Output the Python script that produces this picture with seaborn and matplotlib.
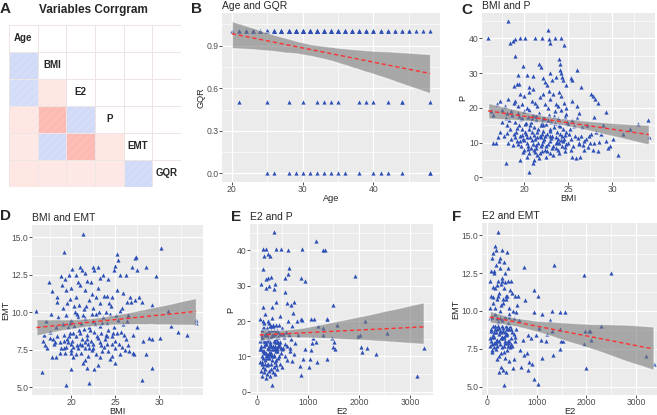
import numpy as np
import pandas as pd
import matplotlib
matplotlib.use("Agg")
import matplotlib.pyplot as plt
from matplotlib.colors import LinearSegmentedColormap
from matplotlib.patches import Rectangle
from matplotlib.ticker import AutoMinorLocator
import seaborn as sns

# ====================
# DATA
# ====================
variables = ["Age", "BMI", "E2", "P", "EMT", "GQR"]
corr_rows = [
    [1.00],
    [0.12, 1.00],
    [0.11, -0.10, 1.00],
    [-0.10, -0.27, 0.12, 1.00],
    [-0.09, 0.12, -0.27, -0.10, 1.00],
    [-0.10, -0.09, -0.09, -0.09, 0.12, 1.00],
]

# B: Age vs GQR (points overlap, so counts per age)
age_one = [20, 21, 22, 23, 24, 25, 26, 27, 28, 29, 30, 31, 32, 33, 34,
           35, 36, 37, 38, 39, 40, 41, 42, 43, 44, 45, 46, 47, 48]
n_one = [1, 2, 3, 4, 5, 6, 7, 8, 9, 10, 10, 10, 9, 8, 8,
         7, 6, 5, 5, 4, 4, 3, 3, 2, 2, 2, 1, 1, 1]
age_half = [21, 25, 28, 30, 32, 33, 34, 35, 38, 39, 40, 42, 44, 48]
n_half = [1, 1, 1, 1, 1, 1, 1, 1, 1, 1, 1, 1, 2, 1]
age_zero = [25, 26, 28, 29, 30, 31, 32, 33, 34, 35, 36, 38, 40, 41, 42, 44, 48]
n_zero = [1, 1, 1, 1, 1, 1, 1, 1, 1, 1, 1, 1, 1, 1, 1, 1, 2]

# C: BMI vs P
bmi_c = [15.9, 18.2, 18.4, 18.7, 19.0, 19.5, 20.1, 21.2, 22.0, 22.7,
         22.8, 23.0, 23.5, 24.2, 24.5, 19.0, 19.3, 19.4, 19.9, 20.3,
         21.0, 21.7, 21.9, 22.2, 22.4, 22.6, 23.2, 23.6, 24.0, 24.1,
         24.1, 24.2, 24.3, 24.4, 24.8, 25.3, 25.5, 26.0, 26.5, 19.2,
         20.6, 22.9, 18.9, 16.9, 17.2, 17.5, 17.8, 18.2, 18.5, 18.8,
         19.0, 19.3, 19.5, 19.8, 20.0, 20.3, 20.6, 20.9, 21.2, 21.5,
         21.8, 22.1, 22.4, 22.7, 23.0, 23.3, 23.6, 23.9, 24.2, 24.5,
         24.8, 25.4, 26.0, 27.6, 27.8, 28.1, 28.4, 29.3, 21.0, 22.8,
         24.0, 16.2, 16.5, 16.8, 17.2, 17.5, 17.7, 17.9, 18.1, 18.2,
         18.4, 18.6, 18.8, 19.0, 19.1, 19.2, 19.3, 19.4, 19.5, 19.6,
         19.7, 19.8, 19.9, 20.0, 20.0, 19.5, 20.1, 20.2, 20.3, 20.4,
         20.5, 20.6, 20.7, 20.8, 20.9, 21.0, 21.0, 20.5, 20.3, 21.1,
         21.2, 21.3, 21.4, 21.5, 21.5, 21.6, 21.7, 21.8, 21.9, 22.0,
         22.0, 21.7, 22.1, 22.2, 22.3, 22.4, 22.5, 22.6, 22.7, 22.8,
         22.9, 23.0, 23.0, 22.5, 23.1, 23.2, 23.3, 23.4, 23.5, 23.6,
         23.7, 23.8, 23.9, 24.0, 24.0, 24.1, 24.2, 24.3, 24.4, 24.5,
         24.6, 24.7, 24.8, 24.9, 25.0, 25.2, 25.4, 25.6, 25.8, 26.0,
         26.2, 26.4, 26.6, 26.8, 27.0, 27.2, 25.9, 26.3, 27.5, 27.8,
         28.2, 28.4, 28.7, 29.0, 29.3, 29.6, 30.1, 30.7, 31.3, 32.0,
         33.0, 34.1, 34.2, 28.0, 16.5, 17.9, 20.5, 21.0, 21.1, 18.0,
         19.2, 19.6, 20.1, 20.4, 20.7, 21.1, 21.3, 21.6, 21.9, 22.2,
         22.4, 22.7, 23.0, 23.2, 23.5, 23.8, 24.1, 24.4, 24.7, 25.0,
         19.5, 19.9, 20.3, 20.8, 21.2, 21.5, 21.8, 22.1, 22.6, 22.9,
         23.3, 23.6, 24.0, 24.3, 24.6, 25.1, 25.3, 25.7, 26.1, 26.5,
         18.0, 18.3, 18.7, 19.0, 19.4, 20.2, 20.9, 21.4, 22.0, 22.3,
         23.4, 24.8, 25.5, 26.2, 26.8, 27.3, 27.6, 27.9, 28.5, 29.8,
         19.3, 19.8, 20.4, 20.9, 21.4, 21.9, 22.5, 23.1, 23.6, 24.2,
         24.8, 25.3, 20.0, 21.1, 22.0, 23.7, 18.5, 17.0, 26.7, 27.4]
p_c = [40.1, 45.0, 38.6, 39.2, 39.8, 40.1, 40.2, 40.2, 40.2, 42.5,
       39.8, 38.6, 40.1, 40.2, 38.2, 34.8, 29.5, 26.8, 32.0, 29.5,
       29.2, 32.5, 31.8, 28.5, 27.5, 26.5, 28.0, 29.0, 34.0, 32.5,
       31.0, 30.0, 29.0, 28.0, 26.5, 28.5, 28.0, 31.0, 26.0, 27.0,
       26.0, 30.0, 26.2, 21.0, 22.0, 19.5, 20.5, 22.5, 19.0, 21.5,
       22.0, 20.5, 24.0, 21.0, 23.5, 20.0, 24.5, 22.0, 21.5, 20.5,
       23.0, 24.0, 21.0, 20.0, 22.5, 24.0, 21.0, 20.5, 23.5, 21.5,
       20.0, 22.0, 20.5, 24.0, 23.5, 22.5, 21.5, 18.8, 25.5, 25.0,
       24.5, 19.0, 18.0, 10.0, 13.0, 16.0, 12.0, 17.0, 15.0, 10.0,
       14.0, 18.0, 12.5, 16.0, 13.0, 10.5, 18.5, 15.0, 12.0, 9.0,
       17.0, 14.0, 11.0, 19.0, 8.0, 5.0, 15.5, 12.5, 10.0, 17.5,
       14.0, 7.0, 11.5, 16.0, 13.0, 9.5, 18.0, 19.5, 6.0, 14.5,
       11.0, 8.5, 16.5, 13.0, 6.5, 10.0, 18.5, 12.0, 15.0, 7.5,
       9.5, 5.5, 13.5, 17.0, 11.0, 8.0, 15.5, 12.5, 9.5, 18.0,
       14.0, 10.5, 7.0, 6.0, 16.0, 12.0, 9.0, 14.5, 19.0, 11.5,
       13.0, 8.0, 17.0, 10.0, 15.0, 12.5, 19.5, 9.0, 14.0, 11.0,
       17.5, 7.5, 13.0, 16.0, 10.0, 14.0, 6.0, 9.0, 12.0, 17.0,
       10.0, 6.0, 14.5, 8.0, 11.0, 15.0, 5.5, 9.5, 10.0, 8.0,
       13.0, 7.5, 12.5, 15.0, 10.5, 8.5, 11.0, 6.5, 12.5, 14.0,
       15.5, 16.5, 11.5, 17.5, 9.9, 4.1, 1.7, 4.1, 5.0, 18.5,
       14.2, 16.8, 13.2, 9.0, 15.0, 12.2, 17.6, 14.0, 9.0, 15.2,
       12.0, 16.4, 13.4, 8.6, 15.6, 11.0, 14.8, 10.6, 12.2, 15.5,
       10.5, 7.4, 11.7, 8.6, 7.2, 11.5, 7.0, 10.6, 7.6, 11.8,
       6.6, 9.8, 7.0, 11.9, 8.9, 12.6, 8.0, 14.8, 11.4, 12.0,
       12.8, 16.6, 9.4, 11.5, 17.8, 15.8, 17.2, 17.8, 16.0, 17.0,
       17.8, 18.2, 16.5, 18.5, 10.5, 8.8, 12.4, 9.8, 10.2, 9.0,
       9.6, 12.3, 8.2, 10.8, 9.3, 11.6, 9.1, 11.3, 8.4, 10.9,
       9.7, 11.1, 10.9, 8.0, 12.6, 10.2, 11.2, 11.5, 9.3, 11.8]

# D: BMI vs EMT
bmi_d = [21.3, 19.2, 30.2, 25.2, 25.3, 27.4, 27.2, 26.9, 25.0, 23.0,
         22.6, 21.0, 21.2, 21.5, 19.7, 18.8, 20.5, 21.8, 22.2, 17.4,
         24.8, 25.5, 26.2, 27.5, 28.5, 29.6, 23.6, 24.2, 18.9, 19.4,
         17.8, 20.0, 20.5, 21.0, 21.6, 22.3, 23.0, 23.7, 24.0, 24.6,
         25.2, 25.9, 26.7, 27.7, 28.0, 18.3, 19.0, 19.8, 20.3, 20.9,
         21.4, 22.0, 22.5, 23.2, 23.9, 24.5, 25.5, 26.3, 26.8, 27.3,
         29.2, 31.0, 34.2, 16.0, 22.8, 18.4, 17.1, 17.5, 17.9, 18.2,
         18.5, 18.7, 19.0, 19.2, 16.9, 17.7, 19.4, 19.5, 19.6, 19.8,
         20.0, 20.1, 20.3, 20.5, 20.7, 20.9, 19.9, 21.1, 21.2, 21.4,
         21.6, 21.8, 22.0, 22.2, 22.4, 22.6, 22.8, 23.0, 21.9, 23.2,
         23.4, 23.6, 23.8, 24.0, 24.2, 24.4, 24.6, 24.8, 25.0, 25.3,
         25.6, 25.9, 26.2, 26.5, 27.0, 27.5, 28.2, 28.8, 29.2, 30.1,
         26.3, 31.3, 32.2, 33.2, 34.2, 17.8, 18.2, 18.7, 19.4, 19.9,
         20.2, 20.6, 21.1, 21.5, 21.9, 22.3, 22.8, 23.3, 23.7, 24.2,
         24.6, 25.0, 25.5, 26.1, 26.6, 27.0, 27.1, 28.5, 17.0, 18.1,
         16.6, 19.4, 20.0, 21.3, 21.8, 22.0, 22.6, 23.0, 24.4, 25.0,
         28.1, 29.2, 21.6, 19.3, 20.1, 22.5, 20.8, 23.3, 19.5, 20.6,
         19.6, 19.8, 20.2, 20.4, 20.8, 21.0, 21.3, 21.5, 21.7, 22.1,
         22.3, 22.5, 22.7, 23.1, 23.3, 23.5, 23.9, 24.1, 24.3, 24.7,
         25.1, 25.4, 25.8, 26.0, 26.4, 19.1, 20.0, 21.0, 22.0, 23.5,
         17.2, 17.6, 18.0, 18.4, 18.8, 19.1, 19.3, 19.7, 20.2, 16.8,
         20.5, 21.2, 21.8, 22.4, 22.9, 23.4, 24.0, 24.6, 25.2, 25.8]
emt_d = [15.2, 14.0, 14.3, 13.9, 13.5, 13.7, 13.6, 13.0, 13.1, 13.0,
         12.8, 13.0, 12.8, 12.6, 12.5, 12.4, 12.5, 12.1, 12.0, 12.0,
         12.8, 12.5, 12.5, 12.8, 13.0, 12.4, 12.5, 12.2, 11.8, 11.5,
         11.4, 11.6, 11.0, 11.8, 11.5, 11.2, 11.6, 11.1, 11.1, 11.0,
         11.5, 11.3, 11.0, 11.0, 10.7, 10.7, 10.3, 10.9, 10.4, 10.5,
         10.2, 10.8, 10.3, 10.6, 10.0, 10.4, 10.1, 10.7, 10.7, 10.8,
         10.5, 10.1, 9.5, 10.1, 11.0, 11.0, 9.4, 8.7, 8.2, 9.0,
         9.7, 8.0, 9.2, 8.5, 8.5, 9.9, 9.8, 8.2, 9.0, 8.6,
         9.5, 8.1, 9.1, 8.4, 9.7, 8.8, 7.9, 9.3, 8.2, 8.9,
         9.6, 8.5, 9.0, 8.1, 9.4, 8.7, 9.9, 8.3, 7.9, 9.1,
         8.6, 9.7, 8.2, 9.3, 8.8, 9.9, 8.4, 9.0, 8.1, 9.5,
         8.7, 9.2, 8.2, 9.8, 8.5, 9.0, 8.1, 8.3, 8.2, 8.3,
         9.4, 9.1, 8.7, 8.5, 9.3, 7.0, 7.0, 7.3, 7.7, 7.5,
         7.0, 7.8, 7.3, 7.6, 7.1, 7.5, 7.2, 7.0, 7.7, 7.4,
         7.1, 7.6, 7.2, 7.5, 7.4, 7.3, 7.2, 7.2, 7.8, 8.0,
         6.0, 5.15, 6.2, 6.6, 6.3, 5.3, 6.2, 6.5, 6.9, 6.6,
         5.5, 6.3, 6.8, 12.2, 12.9, 13.0, 12.0, 12.3, 10.6, 9.9,
         8.0, 9.3, 8.6, 10.0, 7.6, 8.6, 9.8, 8.0, 10.4, 8.8,
         9.9, 7.9, 9.2, 10.0, 8.0, 9.3, 8.5, 7.9, 10.6, 8.6,
         9.8, 7.9, 10.3, 8.5, 7.8, 7.6, 7.3, 7.9, 7.6, 7.4,
         7.6, 8.3, 7.9, 8.4, 7.6, 8.1, 7.3, 8.4, 7.7, 8.1,
         7.2, 7.8, 8.2, 7.6, 8.4, 7.8, 8.4, 7.9, 8.6, 7.7]

# E: E2 vs P
e2_e = [330, 1160, 1290, 1340, 130, 175, 370, 475, 620, 895,
        150, 230, 260, 130, 630, 620, 555, 870, 950, 1915,
        85, 230, 350, 1070, 1120, 1370, 1500, 1565, 2110, 1305,
        2555, 3270, 3140, 1975, 2015, 2045, 2060, 2150, 2335, 1470,
        1500, 1535, 1370, 1065, 1045, 1030, 1110, 1075, 1155, 1175,
        955, 915, 850, 870, 815, 750, 740, 700, 785, 870,
        895, 725, 720, 675, 590, 555, 1380, 1520, 1290, 1200,
        60, 80, 90, 100, 110, 120, 130, 140, 150, 160,
        170, 180, 190, 200, 210, 220, 230, 240, 250, 260,
        270, 280, 290, 300, 310, 320, 330, 340, 350, 360,
        370, 380, 390, 400, 410, 420, 440, 460, 480, 500,
        520, 540, 560, 580, 600, 640, 660, 680, 700, 620,
        70, 95, 115, 135, 155, 175, 195, 215, 235, 255,
        275, 295, 315, 335, 355, 375, 395, 415, 435, 455,
        100, 140, 160, 180, 200, 220, 240, 260, 280, 300,
        320, 340, 360, 380, 400, 420, 460, 500, 180, 290,
        65, 85, 105, 125, 145, 165, 185, 205, 225, 245,
        265, 285, 305, 325, 345, 365, 385, 405, 450, 500,
        75, 105, 125, 145, 165, 185, 205, 225, 245, 265,
        285, 305, 325, 345, 365, 385, 405, 425, 445, 470,
        90, 110, 130, 150, 170, 190, 210, 230, 250, 270,
        290, 310, 330, 350, 380, 440, 520, 560, 600, 650]
p_e = [45.2, 42.7, 40.2, 40.2, 40.5, 40.5, 40.5, 40.5, 40.1, 40.5,
       38.5, 39.0, 38.5, 34.7, 35.0, 33.3, 32.2, 32.2, 31.5, 32.9,
       30.5, 32.2, 30.5, 20.6, 20.6, 20.6, 24.5, 19.0, 20.0, 18.0,
       16.7, 12.5, 4.4, 15.7, 16.2, 12.8, 11.3, 12.5, 10.6, 15.3,
       12.8, 12.0, 9.3, 11.9, 9.3, 6.9, 15.3, 13.9, 14.0, 8.3,
       12.0, 9.3, 7.4, 4.8, 16.2, 13.9, 10.6, 8.8, 20.0, 20.6,
       20.2, 25.5, 22.2, 24.5, 25.0, 28.2, 20.5, 14.2, 16.0, 18.5,
       20.5, 16.0, 13.0, 10.0, 8.0, 24.0, 18.0, 14.5, 11.5, 9.0,
       22.0, 16.5, 13.5, 10.5, 7.5, 20.0, 15.0, 12.0, 9.5, 18.5,
       14.0, 11.0, 6.5, 21.0, 16.0, 13.0, 10.0, 17.5, 12.5, 8.5,
       19.0, 15.0, 11.5, 14.0, 17.0, 9.5, 13.5, 16.5, 11.0, 18.0,
       12.5, 15.5, 10.0, 17.0, 13.0, 16.0, 11.5, 15.0, 18.5, 20.0,
       12.0, 17.5, 20.0, 11.0, 16.0, 13.5, 18.0, 12.5, 17.0, 13.0,
       17.5, 12.0, 18.5, 14.5, 16.5, 12.0, 17.5, 13.0, 19.0, 14.0,
       15.0, 18.0, 16.5, 29.5, 14.5, 17.0, 30.0, 13.5, 18.5, 24.0,
       16.0, 29.0, 13.0, 25.5, 12.5, 14.0, 21.5, 12.0, 32.0, 32.5,
       8.5, 6.0, 4.5, 7.0, 5.5, 6.5, 4.0, 5.0, 8.0, 6.0,
       4.5, 8.0, 1.9, 5.5, 7.0, 5.0, 7.5, 6.5, 8.0, 7.0,
       14.5, 15.5, 9.5, 19.5, 14.0, 10.0, 16.0, 10.5, 19.5, 11.0,
       15.5, 9.0, 19.0, 10.5, 14.0, 9.0, 12.0, 15.5, 10.0, 12.5,
       12.0, 8.5, 11.5, 13.0, 8.0, 11.0, 9.5, 12.5, 11.0, 10.5,
       13.0, 10.0, 12.0, 12.5, 11.5, 13.0, 16.5, 13.5, 9.0, 12.5]

# F: E2 vs EMT
e2_f = [220, 155, 300, 400, 735, 1355, 1955, 2500, 950, 1035,
        755, 1300, 1465, 955, 1100, 1265, 985, 1085, 1180, 1300,
        1465, 1465, 1335, 1115, 900, 955, 1035, 515, 685, 820,
        320, 235, 335, 380, 1955, 1965, 2045, 2080, 2000, 2085,
        2285, 3200, 3350, 635, 565, 715, 835, 670, 735, 535,
        1560, 1530, 1050, 880, 800, 620, 590, 850, 1200, 1480,
        60, 70, 80, 90, 100, 110, 120, 130, 140, 150,
        160, 170, 180, 190, 200, 210, 220, 230, 240, 250,
        260, 270, 280, 290, 300, 310, 320, 330, 340, 350,
        360, 370, 380, 390, 400, 410, 420, 430, 440, 450,
        460, 470, 480, 490, 500, 520, 540, 560, 580, 600,
        65, 85, 105, 125, 145, 165, 185, 205, 225, 245,
        265, 285, 305, 325, 345, 365, 385, 405, 425, 445,
        75, 95, 115, 135, 155, 175, 195, 215, 235, 255,
        275, 295, 315, 335, 355, 375, 395, 415, 435, 455,
        120, 180, 260, 340, 110, 210, 290, 370, 450, 500,
        55, 85, 115, 145, 175, 205, 235, 265, 295, 325,
        355, 385, 415, 445, 475, 505, 535, 565, 140, 200,
        100, 160, 250, 310, 370, 430, 490, 70, 280, 400]
emt_f = [15.2, 14.3, 14.0, 13.9, 12.9, 13.0, 12.4, 12.5, 11.4, 11.0,
         10.7, 10.0, 9.9, 9.9, 9.8, 9.4, 8.4, 8.1, 8.0, 8.7,
         8.8, 7.5, 7.1, 6.9, 6.5, 5.5, 5.2, 6.25, 6.3, 6.1,
         6.1, 6.0, 5.1, 6.0, 7.8, 8.7, 8.7, 8.7, 6.25, 8.1,
         9.0, 7.0, 6.5, 9.4, 8.3, 8.1, 8.4, 7.4, 7.1, 6.8,
         9.9, 8.0, 8.9, 8.2, 7.2, 11.0, 9.9, 6.6, 8.5, 8.0,
         12.0, 9.5, 8.0, 11.0, 13.5, 7.8, 10.5, 9.0, 12.5, 8.3,
         11.5, 9.8, 13.0, 7.5, 10.8, 8.8, 12.0, 9.3, 11.2, 8.0,
         12.8, 10.0, 7.2, 11.8, 9.0, 12.2, 8.2, 10.5, 7.7, 11.5,
         9.6, 12.5, 8.5, 10.8, 7.4, 11.0, 9.2, 12.8, 8.0, 10.2,
         9.0, 11.4, 7.8, 12.0, 8.6, 10.0, 9.5, 11.0, 8.8, 10.4,
         10.2, 12.6, 9.6, 11.6, 8.6, 10.2, 7.9, 9.5, 11.0, 13.3,
         8.7, 8.6, 9.4, 10.8, 8.3, 8.0, 11.0, 8.8, 7.7, 9.8,
         8.7, 7.4, 10.9, 12.6, 9.0, 8.0, 11.7, 9.0, 7.0, 9.5,
         10.4, 12.0, 8.9, 7.3, 11.9, 9.0, 8.9, 12.0, 9.6, 7.6,
         13.8, 14.0, 13.5, 13.2, 7.3, 6.8, 6.3, 6.9, 6.7, 11.2,
         8.2, 8.8, 8.4, 7.9, 8.6, 8.1, 8.9, 7.8, 8.3, 8.7,
         7.9, 8.4, 8.0, 8.8, 8.2, 7.7, 8.5, 8.0, 7.6, 7.7,
         8.3, 8.8, 8.5, 7.6, 8.6, 7.9, 8.8, 7.7, 8.2, 8.5]

# ====================
# STYLE
# ====================
sns.set_style("darkgrid", {"axes.facecolor": "#EBEBEB", "grid.color": "white"})
plt.rcParams["font.family"] = ["Liberation Sans", "DejaVu Sans"]
plt.rcParams["hatch.linewidth"] = 0.5

POINT = "#2D4FB6"
LINE = "#FF3030"
BAND = "#7A7A7A"
W, H = 657, 415


def box(x0, y0, x1, y1):
    # pixel box -> figure fraction
    return [x0 / W, 1 - y1 / H, (x1 - x0) / W, (y1 - y0) / H]


def scatter_panel(ax, x, y, title, xlabel, ylabel, xticks, yticks, ylabels, xlim, ylim, seed):
    sns.scatterplot(x=x, y=y, ax=ax, marker="^", s=9, color=POINT,
                    linewidth=0, zorder=2, legend=False)
    sns.regplot(x=x, y=y, ax=ax, scatter=False, color=BAND, seed=seed,
                line_kws=dict(lw=1.0))
    ax.lines[-1].set(color=LINE, linestyle=(0, (3, 2)), zorder=4)
    ax.collections[-1].set(alpha=0.6, zorder=3)

    ax.set_xlim(xlim)
    ax.set_ylim(ylim)
    ax.set_xticks(xticks)
    ax.set_yticks(yticks)
    ax.set_xticklabels([str(t) for t in xticks])
    ax.set_yticklabels(ylabels)
    ax.xaxis.set_minor_locator(AutoMinorLocator(2))
    ax.yaxis.set_minor_locator(AutoMinorLocator(2))
    ax.grid(which="major", color="white", lw=0.9)
    ax.grid(which="minor", color="white", lw=0.45)
    ax.set_axisbelow(True)
    ax.tick_params(which="major", length=2, width=0.6, color="#333333",
                   labelsize=6.2, labelcolor="#4D4D4D", pad=0.5,
                   bottom=True, left=True)
    ax.tick_params(which="minor", length=0)
    for s in ax.spines.values():
        s.set_visible(False)
    ax.set_xlabel(xlabel, fontsize=6.6, labelpad=0)
    ax.set_ylabel(ylabel, fontsize=6.6, labelpad=1)
    ax.set_title(title, loc="left", fontsize=7.5, pad=3)


fig = plt.figure(figsize=(6.57, 4.15), dpi=100)

# ====================
# A: CORRGRAM
# ====================
axA = fig.add_axes(box(9, 25, 181, 187))
axA.set_facecolor("white")
mat = np.full((6, 6), np.nan)
for i, row in enumerate(corr_rows):
    mat[i, :len(row)] = row
mask = np.triu(np.ones((6, 6), dtype=bool))
cmap = LinearSegmentedColormap.from_list(
    "corrgram", ["red", "salmon", "white", "royalblue", "navy"])
sns.heatmap(pd.DataFrame(mat, index=variables, columns=variables), mask=mask,
            cmap=cmap, vmin=-1, vmax=1, cbar=False, linewidths=0.5,
            linecolor="#EFE4E4", ax=axA)
for i in range(6):
    for j in range(i):
        axA.add_patch(Rectangle((j, i), 1, 1, fill=False, hatch="////",
                                edgecolor=(1, 1, 1, 0.25), lw=0))
for i, name in enumerate(variables):
    axA.text(i + 0.5, i + 0.5, name, ha="center", va="center",
             fontsize=7, fontweight="bold")
axA.set_xticks([])
axA.set_yticks([])
axA.set_xlabel("")
axA.set_ylabel("")
fig.text(39 / W, 1 - 4 / H, "Variables Corrgram", fontsize=8.5,
         fontweight="bold", va="top", ha="left")

# ====================
# B..F: SCATTER PANELS
# ====================
age_b = np.concatenate([np.repeat(age_one, n_one), np.repeat(age_half, n_half),
                        np.repeat(age_zero, n_zero)])
gqr_b = np.concatenate([np.ones(sum(n_one)), np.full(sum(n_half), 0.5),
                        np.zeros(sum(n_zero))])

axB = fig.add_axes(box(222, 13, 440, 182))
scatter_panel(axB, age_b, gqr_b, "Age and GQR", "Age", "GQR",
              [20, 30, 40], [0.0, 0.3, 0.6, 0.9], ["0.0", "0.3", "0.6", "0.9"],
              (18.6, 49.4), (-0.06, 1.13), seed=1)

axC = fig.add_axes(box(482, 13, 655, 182))
scatter_panel(axC, bmi_c, p_c, "BMI and P", "BMI", "P",
              [20, 25, 30], [0, 10, 20, 30, 40], ["0", "10", "20", "30", "40"],
              (15.2, 34.9), (-1.3, 47.3), seed=2)

axD = fig.add_axes(box(32, 225, 203, 395))
scatter_panel(axD, bmi_d, emt_d, "BMI and EMT", "BMI", "EMT",
              [20, 25, 30], [5.0, 7.5, 10.0, 12.5, 15.0],
              ["5.0", "7.5", "10.0", "12.5", "15.0"],
              (15.5, 35.0), (4.5, 15.8), seed=3)

axE = fig.add_axes(box(250, 224, 433, 395))
scatter_panel(axE, e2_e, p_e, "E2 and P", "E2", "P",
              [0, 1000, 2000, 3000], [0, 10, 20, 30, 40],
              ["0", "10", "20", "30", "40"],
              (-130, 3450), (-0.9, 47.5), seed=4)

axF = fig.add_axes(box(482, 223, 657, 395))
scatter_panel(axF, e2_f, emt_f, "E2 and EMT", "E2", "EMT",
              [0, 1000, 2000, 3000], [5.0, 7.5, 10.0, 12.5, 15.0],
              ["5.0", "7.5", "10.0", "12.5", "15.0"],
              (-100, 3420), (4.45, 15.8), seed=5)

# panel letters
for letter, px, py in [("A", 0, 2), ("B", 191, 2), ("C", 461, 3),
                       ("D", 0, 209), ("E", 231, 210), ("F", 452, 210)]:
    fig.text(px / W, 1 - py / H, letter, fontsize=11, fontweight="bold",
             va="top", ha="left")

fig.savefig("out.png", dpi=100)
